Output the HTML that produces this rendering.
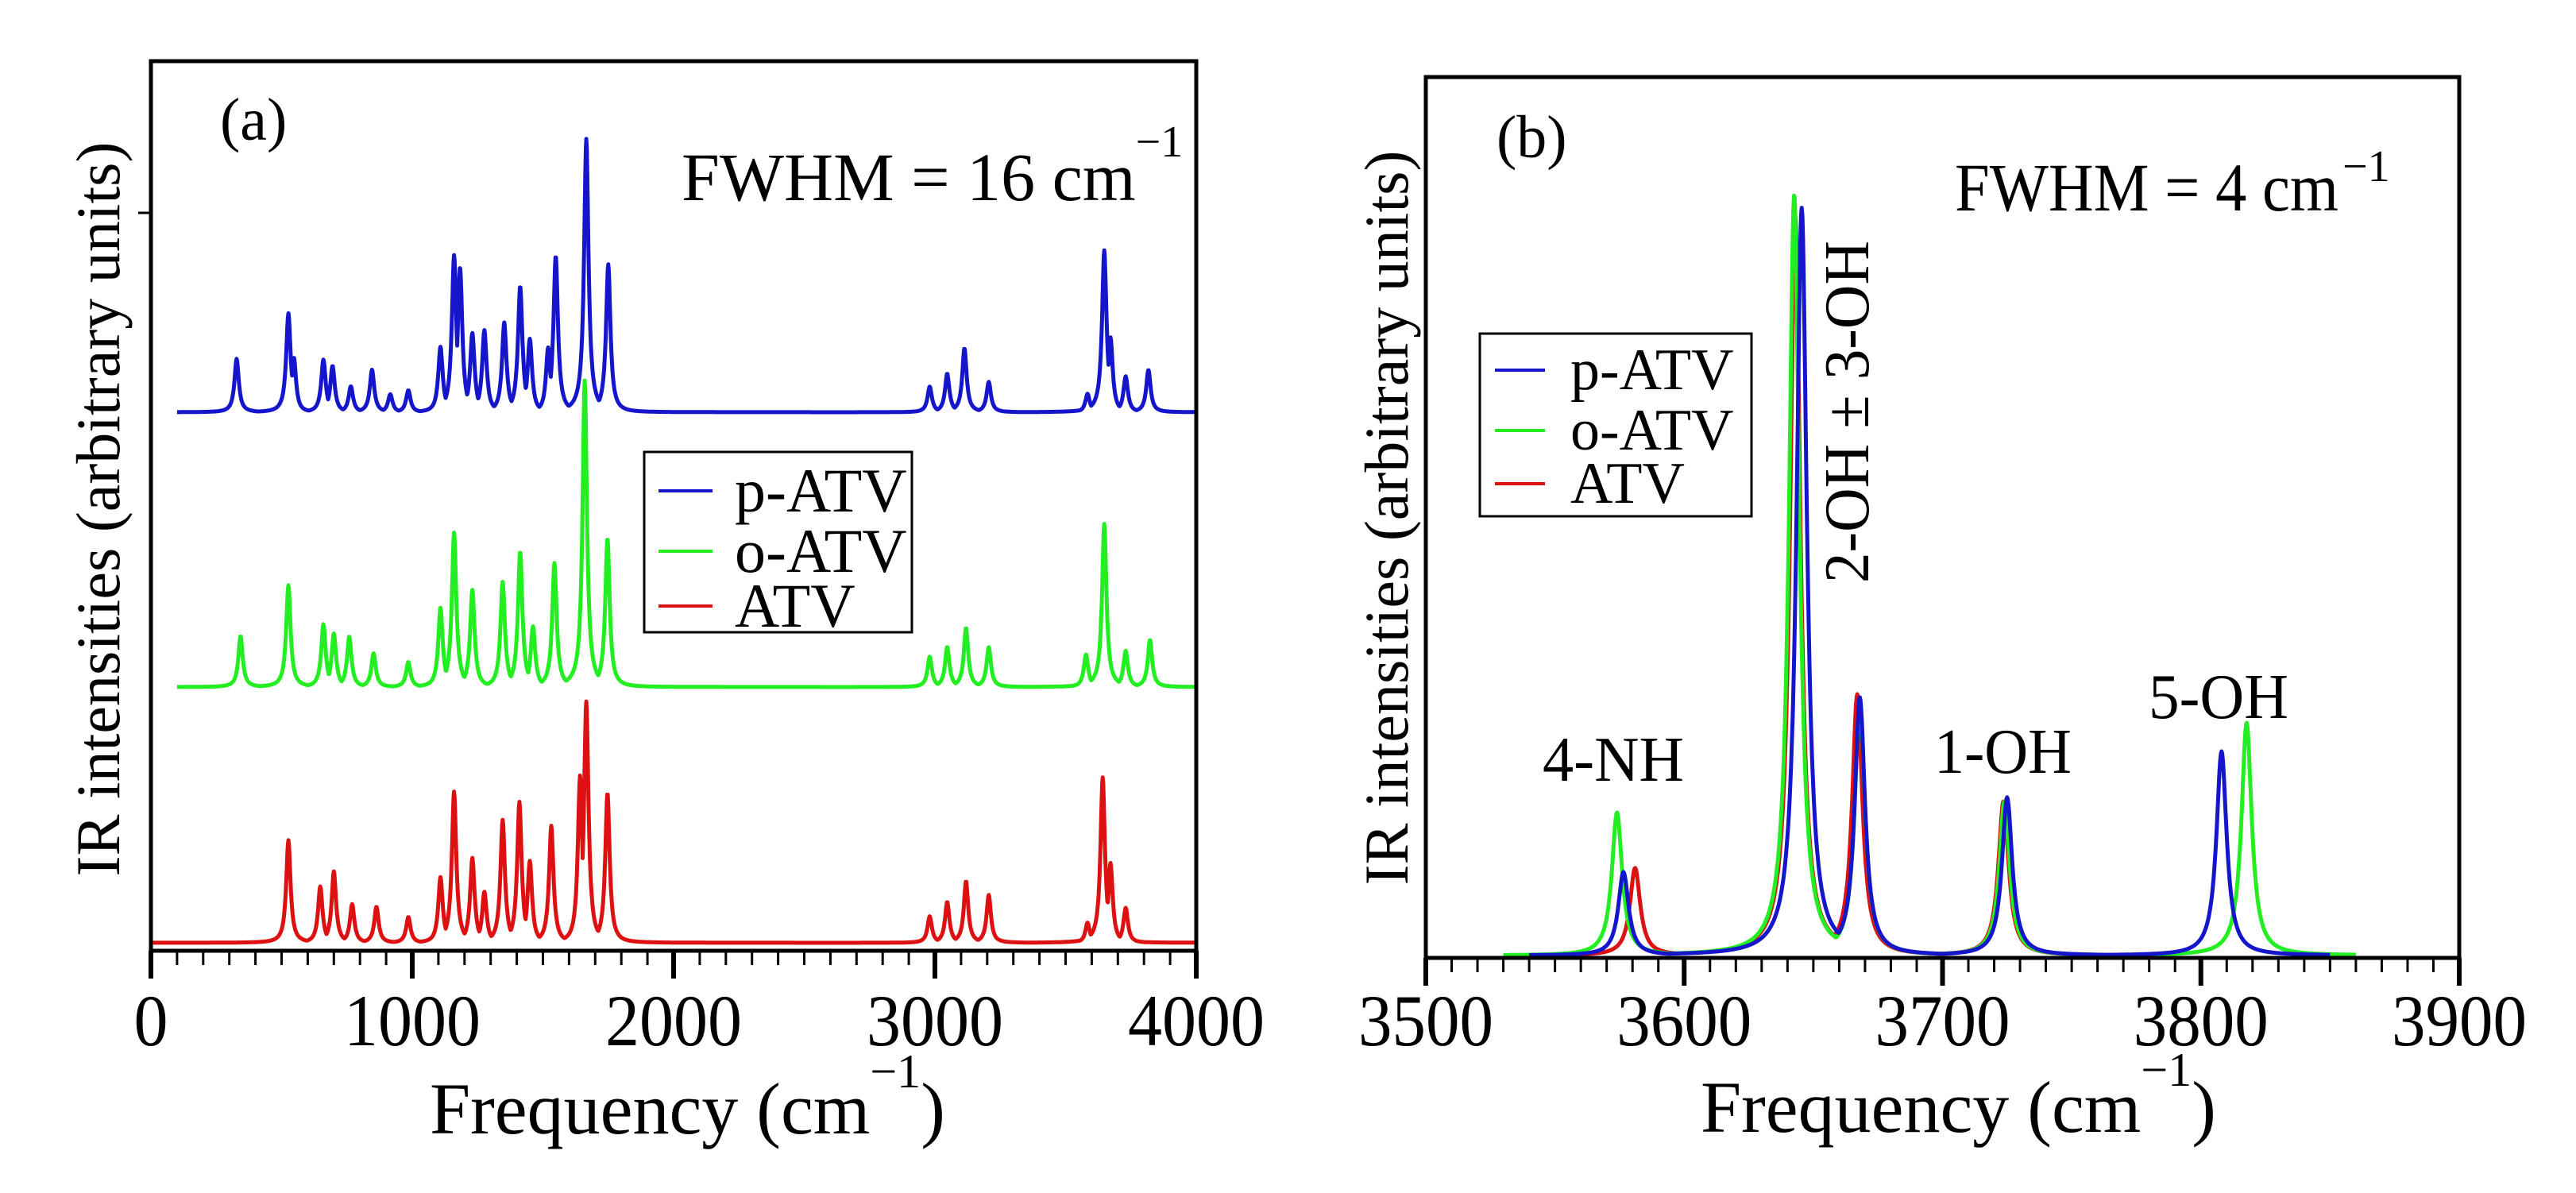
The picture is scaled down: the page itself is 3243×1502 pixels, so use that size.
<!DOCTYPE html>
<html><head><meta charset="utf-8"><style>
html,body{margin:0;padding:0;background:#fff}
svg{display:block}
text{font-family:"Liberation Serif",serif;fill:#000}
</style></head><body>
<svg id="chart" width="3243" height="1502" viewBox="0 0 3243 1502" xmlns="http://www.w3.org/2000/svg">
<rect width="3243" height="1502" fill="#fff"/>
<g id="pa"></g>
<g id="pb"></g>
</svg>
<script>
// ---------- Panel (a) data: peak frequencies (cm-1) and heights (px-scale units) ----------
const aBlueFreq = [328,526,547,660,695,765,846,916,985,1108,1160,1183,1230,1276,1352,1413,1450,1520,1549,1666,1750,2980,3047,3113,3206,3584,3648,3672,3730,3817];
const aBlueInt  = [67,122,65,65,57,32,53,22,27,80,191,175,96,101,111,156,89,77,194,343,185,32,48,80,38,22,201,89,44,53];
const aGreenFreq = [343,526,660,700,759,852,985,1108,1160,1230,1346,1413,1462,1544,1660,1747,2980,3047,3119,3206,3578,3648,3730,3823];
const aGreenInt  = [64,128,78,66,63,42,31,98,193,121,131,169,74,155,385,186,38,50,74,50,40,205,45,59];
const aRedFreq = [526,648,700,770,863,985,1108,1160,1230,1276,1346,1410,1450,1532,1642,1666,1747,2980,3047,3119,3206,3584,3642,3672,3730];
const aRedInt  = [129,70,89,48,45,32,81,189,105,62,153,175,100,146,201,297,187,33,51,77,60,24,206,96,43];
const aOffsets = [332, 10, 678]; // green, red, blue baseline offsets
const aXTicks = [0,1000,2000,3000,4000];

// ---------- Panel (b) data ----------
const bBlueFreq = [3576.5,3645.5,3668,3725,3808];
const bBlueInt  = [105,941,324,199,257];
const bGreenFreq = [3574,3642.6,3668,3724,3817.7];
const bGreenInt  = [180,958,319,194,293];
const bRedFreq = [3581,3643,3667,3723.6];
const bRedInt  = [110,930,328,194];
const bXTicks = [3500,3600,3700,3800,3900];

const NS='http://www.w3.org/2000/svg';
function mk(parent,tag,attrs){const e=document.createElementNS(NS,tag);for(const k in attrs)e.setAttribute(k,attrs[k]);parent.appendChild(e);return e;}
function specMax(freqs,ints,gamma,f){let m=0;for(let i=0;i<freqs.length;i++){const d=(f-freqs[i])/gamma;const v=ints[i]/(1+d*d);if(v>m)m=v;}return m;}
function specSum(freqs,ints,gamma,f){let s=0;for(let i=0;i<freqs.length;i++){const d=(f-freqs[i])/gamma;s+=ints[i]/(1+d*d);}return s;}

// ---------- Panel (a) ----------
const pa=document.getElementById('pa');
const A={x0:190,x1:1506,y0:77,y1:1197,min:0,max:4000};
const ax=f=>A.x0+(f-A.min)/(A.max-A.min)*(A.x1-A.x0);
const ay=v=>A.y1-v;
function pathA(freqs,ints,off,start){let d='';for(let f=start;f<=4000;f+=2){const m=specMax(freqs,ints,10,f);const v=off+0.8*m+0.2*Math.min(specSum(freqs,ints,10,f),1.3*m);d+=(d?'L':'M')+ax(f).toFixed(1)+','+ay(v).toFixed(1);}return d;}
const sA=[[aGreenFreq,aGreenInt,aOffsets[0],'#22ee22',100,'series-o-atv-a'],[aRedFreq,aRedInt,aOffsets[1],'#dd1111',0,'series-atv-a'],[aBlueFreq,aBlueInt,aOffsets[2],'#1515cc',100,'series-p-atv-a']];
sA.forEach(s=>{
  const p=mk(pa,'path',{d:pathA(s[0],s[1],s[2],s[4]),fill:'none',stroke:s[3],'stroke-width':5,'stroke-linejoin':'round'});
  
  
});
mk(pa,'rect',{x:A.x0,y:A.y0,width:A.x1-A.x0,height:A.y1-A.y0,fill:'none',stroke:'#000','stroke-width':5});
for(let f=0;f<=4000;f+=100){const maj=f%1000===0;mk(pa,'line',{x1:ax(f),x2:ax(f),y1:A.y1,y2:A.y1+(maj?35:18),stroke:'#000','stroke-width':maj?6:3});}
mk(pa,'line',{x1:A.x0-16,x2:A.x0,y1:268,y2:268,stroke:'#000','stroke-width':3});
aXTicks.forEach(t=>{const e=mk(pa,'text',{x:ax(t),y:1316,'font-size':92,'text-anchor':'middle',textLength:t===0?43:172,lengthAdjust:'spacingAndGlyphs'});e.textContent=t;
  
  });

// ---------- Panel (b) ----------
const pb=document.getElementById('pb');
const B={x0:1795,x1:3096,y0:97,y1:1206,min:3500,max:3900};
const bx=f=>B.x0+(f-B.min)/(B.max-B.min)*(B.x1-B.x0);
const by=v=>B.y1-3-v;
function pathB(freqs,ints,start,end){let d='';for(let f=start;f<=end;f+=0.25){const v=specMax(freqs,ints,2.4,f)*0.9+specSum(freqs,ints,2.4,f)*0.1;d+=(d?'L':'M')+bx(f).toFixed(1)+','+by(v).toFixed(1);}return d;}
const sB=[[bRedFreq,bRedInt,'#dd1111',3545,3760,'series-atv-b'],[bGreenFreq,bGreenInt,'#22ee22',3530,3860,'series-o-atv-b'],[bBlueFreq,bBlueInt,'#1515cc',3540,3850,'series-p-atv-b']];
sB.forEach(s=>{
  const p=mk(pb,'path',{d:pathB(s[0],s[1],s[3],s[4]),fill:'none',stroke:s[2],'stroke-width':5,'stroke-linejoin':'round'});
  
  
});
mk(pb,'rect',{x:B.x0,y:B.y0,width:B.x1-B.x0,height:B.y1-B.y0,fill:'none',stroke:'#000','stroke-width':5});
for(let f=3500;f<=3900;f+=10){const maj=f%100===0;mk(pb,'line',{x1:bx(f),x2:bx(f),y1:B.y1,y2:B.y1+(maj?35:18),stroke:'#000','stroke-width':maj?6:3});}
bXTicks.forEach(t=>{const e=mk(pb,'text',{x:bx(t),y:1316,'font-size':92,'text-anchor':'middle',textLength:170,lengthAdjust:'spacingAndGlyphs'});e.textContent=t;
  
  });
</script>
<svg style="position:absolute;left:0;top:0" width="3243" height="1502" viewBox="0 0 3243 1502" xmlns="http://www.w3.org/2000/svg">
<g font-family="Liberation Serif, serif">
<text x="277" y="176" font-size="76">(a)</text>
<text x="858" y="252" font-size="86">FWHM = 16 cm<tspan font-size="56" dy="-55">−1</tspan></text>
<text transform="translate(150,641) rotate(-90)" font-size="78" text-anchor="middle">IR intensities (arbitrary units)</text>
<text x="541" y="1427" font-size="92">Frequency (cm<tspan font-size="60" dy="-58">−1</tspan><tspan dy="58">)</tspan></text>
<g>
<rect x="811" y="569" width="337" height="227" fill="#fff" stroke="#000" stroke-width="3"/>
<line x1="829" x2="897" y1="618" y2="618" stroke="#1515cc" stroke-width="4"/>
<text x="925" y="644" font-size="78">p-ATV</text>
<line x1="829" x2="897" y1="694" y2="694" stroke="#22ee22" stroke-width="4"/>
<text x="925" y="720" font-size="78">o-ATV</text>
<line x1="829" x2="897" y1="763" y2="763" stroke="#dd1111" stroke-width="4"/>
<text x="925" y="789" font-size="78">ATV</text>
</g>
<text x="1884" y="198" font-size="76">(b)</text>
<text x="2461" y="265" font-size="86" textLength="483" lengthAdjust="spacingAndGlyphs">FWHM = 4 cm</text>
<text x="2949" y="228" font-size="56">−1</text>
<text transform="translate(1772,652) rotate(-90)" font-size="78" text-anchor="middle">IR intensities (arbitrary units)</text>
<text x="2141" y="1425" font-size="92">Frequency (cm<tspan font-size="60" dy="-58">−1</tspan><tspan dy="58">)</tspan></text>
<g>
<rect x="1863" y="420" width="342" height="230" fill="#fff" stroke="#000" stroke-width="3"/>
<line x1="1882" x2="1945" y1="466" y2="466" stroke="#1515cc" stroke-width="4"/>
<text x="1977" y="490" font-size="74">p-ATV</text>
<line x1="1882" x2="1945" y1="542" y2="542" stroke="#22ee22" stroke-width="4"/>
<text x="1977" y="566" font-size="74">o-ATV</text>
<line x1="1882" x2="1945" y1="609" y2="609" stroke="#dd1111" stroke-width="4"/>
<text x="1977" y="633" font-size="74">ATV</text>
</g>
<text transform="translate(2352,734) rotate(-90)" font-size="80" textLength="431" lengthAdjust="spacingAndGlyphs">2-OH ± 3-OH</text>
<text x="1942" y="983" font-size="80" textLength="178" lengthAdjust="spacingAndGlyphs">4-NH</text>
<text x="2435" y="973" font-size="80" textLength="173" lengthAdjust="spacingAndGlyphs">1-OH</text>
<text x="2705" y="904" font-size="80" textLength="176" lengthAdjust="spacingAndGlyphs">5-OH</text>
</g>
</svg>
</body></html>
